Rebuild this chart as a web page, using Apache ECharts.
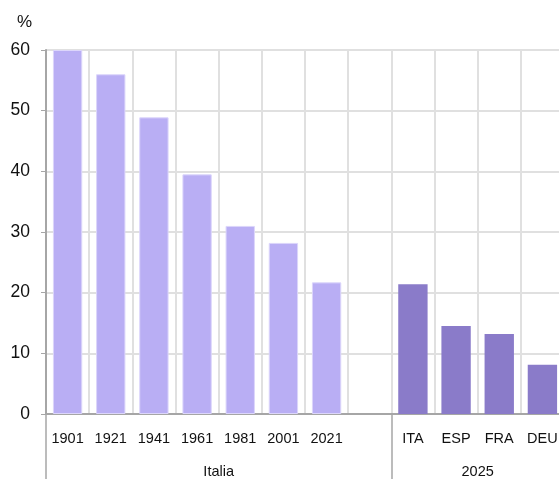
<!DOCTYPE html>
<html>
<head>
<meta charset="utf-8">
<script src="https://cdn.jsdelivr.net/npm/echarts@6/dist/echarts.min.js"></script>
<style>
    * { margin: 0; padding: 0; }
    #main { width: 559px; height: 479px; background: #FFFFFF; }
</style>
</head>
<body>
<div id="main"></div>
<script>
    var categories = ['1901', '1921', '1941', '1961', '1981', '2001', '2021', '', 'ITA', 'ESP', 'FRA', 'DEU'];
    var values = [60, 56, 48.9, 39.5, 31, 28.2, 21.7, null, 21.4, 14.5, 13.2, 8.1];
    var groupNames = ['Italia', '2025'];
    var groupStarts = [0, 8];      // category index where each group starts
    var groupCenters = [4, 10];    // centre of each group, in category units
    var yTicks = [0, 10, 20, 30, 40, 50, 60];

    var lightColor = '#b9aef4';
    var darkColor = '#8a7bc9';
    var font = 'Liberation Sans';

    var myChart = echarts.init(document.getElementById('main'));

    var barData = values.map(function (v, i) {
        if (i >= groupStarts[1]) {
            return { value: v, itemStyle: { color: darkColor } };
        }
        return { value: v, itemStyle: { color: lightColor, borderColor: '#dcd6fb', borderWidth: 1 } };
    });

    var option = {
        animation: false,
        title: {
            text: '%',
            left: 12,
            top: 9,
            textStyle: { fontFamily: font, fontSize: 17, fontWeight: 'normal', color: '#111' }
        },
        grid: {
            left: 46,
            width: 518,
            top: 50,
            bottom: 65,
            outerBoundsMode: 'none'
        },
        xAxis: [
            {
                type: 'category',
                data: categories,
                axisLine: { lineStyle: { color: '#a6a6a6', width: 2 } },
                axisTick: { show: false },
                axisLabel: {
                    interval: 0,
                    margin: 17,
                    fontFamily: font,
                    fontSize: 14.5,
                    color: '#111'
                },
                splitLine: { show: true, lineStyle: { color: '#e0e0e0', width: 2 } }
            },
            {
                // group row under the categories
                type: 'value',
                position: 'bottom',
                min: 0,
                max: categories.length,
                axisLine: { show: false },
                splitLine: { show: false },
                axisTick: {
                    show: true,
                    customValues: groupStarts,
                    length: 66,
                    lineStyle: { color: '#a6a6a6', width: 1.5 }
                },
                axisLabel: {
                    customValues: groupCenters,
                    margin: 50,
                    fontFamily: font,
                    fontSize: 14.5,
                    color: '#111',
                    formatter: function (v) {
                        return groupNames[groupCenters.indexOf(v)];
                    }
                }
            }
        ],
        yAxis: {
            type: 'value',
            min: 0,
            max: 60,
            interval: 10,
            axisLine: { show: true, lineStyle: { color: '#a6a6a6', width: 2 } },
            axisTick: { show: true, length: 5, lineStyle: { color: '#a6a6a6' } },
            axisLabel: {
                margin: 16,
                fontFamily: font,
                fontSize: 17.5,
                color: '#111',
                customValues: yTicks
            },
            splitLine: { show: true, lineStyle: { color: '#e0e0e0', width: 2 } }
        },
        series: [{
            type: 'bar',
            xAxisIndex: 0,
            barWidth: '68%',
            data: barData
        }]
    };

    myChart.setOption(option);
</script>
</body>
</html>
